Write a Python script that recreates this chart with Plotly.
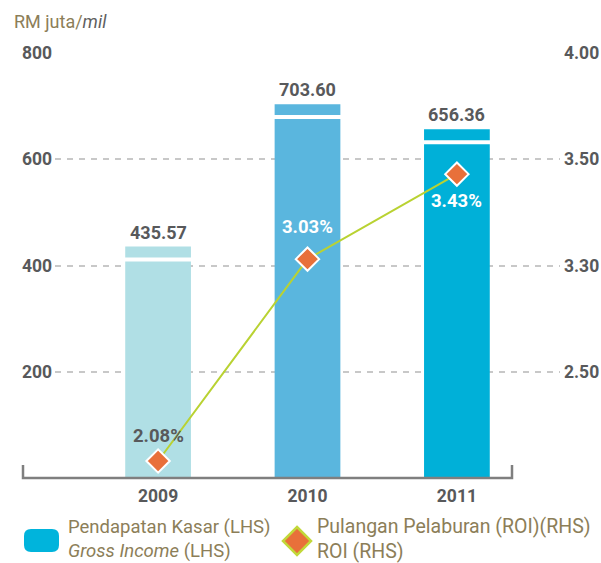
import plotly.graph_objects as go

# ---- data ----
years = ["2009", "2010", "2011"]
gross_income = [435.57, 703.60, 656.36]
roi = [2.08, 3.03, 3.43]
roi_labels = ["2.08%", "3.03%", "3.43%"]
left_ticks = [200, 400, 600, 800]
right_tickvals = [2.5, 3.0, 3.5, 4.0]
right_ticktext = ["2.50", "3.30", "3.50", "4.00"]

# ---- style ----
bar_colors = ["#b0dfe5", "#5ab6de", "#00b0d8"]
pct_colors = ["#58595b", "#ffffff", "#ffffff"]
pct_shift = [25, 32, -27]
dark = "#58595b"
khaki = "#8c7e58"
FONT = "Roboto"

W, H = 601, 563
L, R, T, B = 55, 41, 53, 85
PW, PH = W - L - R, H - T - B


def px(x):
    return (x - L) / PW


def py(y):
    return (T + PH - y) / PH


xs = list(range(len(years)))

fig = go.Figure()
fig.add_trace(go.Bar(
    x=xs, y=gross_income, width=0.44,
    marker=dict(color=bar_colors, line=dict(width=0)),
    hoverinfo="skip", showlegend=False,
))
# white stripe near the top of each bar
fig.add_trace(go.Bar(
    x=xs, y=[7.5] * len(xs), base=[v - 28 for v in gross_income], width=0.46,
    marker=dict(color="white", line=dict(width=0)),
    hoverinfo="skip", showlegend=False,
))
fig.add_trace(go.Scatter(
    x=xs, y=roi, yaxis="y2", mode="lines+markers",
    line=dict(color="#b9d232", width=2),
    marker=dict(symbol="diamond", size=18, color="#e8703a",
                line=dict(color="white", width=2)),
    hoverinfo="skip", showlegend=False,
))

annotations = []
for i, v in enumerate(gross_income):
    annotations.append(dict(
        x=i, y=v, xref="x", yref="y", text=f"<b>{v:.2f}</b>",
        showarrow=False, yanchor="bottom", yshift=2,
        font=dict(family=FONT, size=18, color=dark),
    ))
for i, v in enumerate(roi):
    annotations.append(dict(
        x=i, y=v, xref="x", yref="y2", text=f"<b>{roi_labels[i]}</b>",
        showarrow=False, yanchor="middle", yshift=pct_shift[i],
        font=dict(family=FONT, size=18.5, color=pct_colors[i]),
    ))

# title
annotations.append(dict(
    x=px(12), y=py(21), xref="paper", yref="paper", xanchor="left", yanchor="middle",
    text="RM juta/<i><span style='color:#5f5f5f'>mil</span></i>", showarrow=False,
    font=dict(family=FONT, size=18, color=khaki),
))
# legend texts
annotations.append(dict(
    x=px(67), y=py(539), xref="paper", yref="paper", xanchor="left", yanchor="middle",
    text="Pendapatan Kasar (LHS)<br><i>Gross Income</i> (LHS)", showarrow=False,
    align="left", borderpad=0, font=dict(family=FONT, size=18.5, color=khaki),
))
annotations.append(dict(
    x=px(316), y=py(539), xref="paper", yref="paper", xanchor="left", yanchor="middle",
    text="Pulangan Pelaburan (ROI)(RHS)<br>ROI (RHS)", showarrow=False,
    align="left", borderpad=0, font=dict(family=FONT, size=19.5, color=khaki),
))

shapes = []
# bottom axis line with end ticks
shapes.append(dict(
    type="path", xref="paper", yref="paper",
    path=f"M {px(23)},{py(465)} L {px(23)},{py(478)} L {px(512)},{py(478)} L {px(512)},{py(465)}",
    line=dict(color="#7f7f7f", width=2.5),
))
# legend swatch (rounded rectangle)
x0, x1, y0, y1, r = 24, 59, 529, 552, 7
path = (f"M {px(x0 + r)},{py(y0)} L {px(x1 - r)},{py(y0)} "
        f"Q {px(x1)},{py(y0)} {px(x1)},{py(y0 + r)} L {px(x1)},{py(y1 - r)} "
        f"Q {px(x1)},{py(y1)} {px(x1 - r)},{py(y1)} L {px(x0 + r)},{py(y1)} "
        f"Q {px(x0)},{py(y1)} {px(x0)},{py(y1 - r)} L {px(x0)},{py(y0 + r)} "
        f"Q {px(x0)},{py(y0)} {px(x0 + r)},{py(y0)} Z")
shapes.append(dict(type="path", xref="paper", yref="paper", path=path,
                   fillcolor="#00b4dc", line=dict(width=0)))
# legend diamond
cx, cy, d = 297, 541, 14
shapes.append(dict(
    type="path", xref="paper", yref="paper",
    path=f"M {px(cx)},{py(cy - d)} L {px(cx + d)},{py(cy)} L {px(cx)},{py(cy + d)} L {px(cx - d)},{py(cy)} Z",
    fillcolor="#e8703a", line=dict(color="#c2d83a", width=2.5),
))

fig.update_layout(
    width=W, height=H, autosize=False,
    margin=dict(l=L, r=R, t=T, b=B, pad=0, autoexpand=False),
    paper_bgcolor="white", plot_bgcolor="white",
    barmode="overlay",
    font=dict(family=FONT, color=dark),
    xaxis=dict(
        range=[-0.69, 2.69], tickvals=xs, ticktext=[f"<b>{y}</b>" for y in years],
        showgrid=False, zeroline=False, showline=False, ticks="", automargin=False,
        tickfont=dict(family=FONT, size=17.5, color=dark), ticklabelstandoff=5,
    ),
    yaxis=dict(
        range=[0, 800], tickvals=left_ticks, ticktext=[f"<b>{t}</b>" for t in left_ticks],
        showgrid=True, gridcolor="#c8c8c8", gridwidth=2, griddash="6px,6px",
        zeroline=False, showline=False, ticks="", automargin=False,
        tickfont=dict(family=FONT, size=17.5, color=dark), ticklabelstandoff=2,
    ),
    yaxis2=dict(
        range=[2.0, 4.0], overlaying="y", side="right",
        tickvals=right_tickvals, ticktext=[f"<b>{t}</b>" for t in right_ticktext],
        showgrid=False, zeroline=False, showline=False, ticks="", automargin=False,
        tickfont=dict(family=FONT, size=17.5, color=dark), ticklabelstandoff=3,
    ),
    annotations=annotations,
    shapes=shapes,
)

fig.write_html("out.html", config={"displayModeBar": False},
               post_script="document.body.style.margin='0';")
